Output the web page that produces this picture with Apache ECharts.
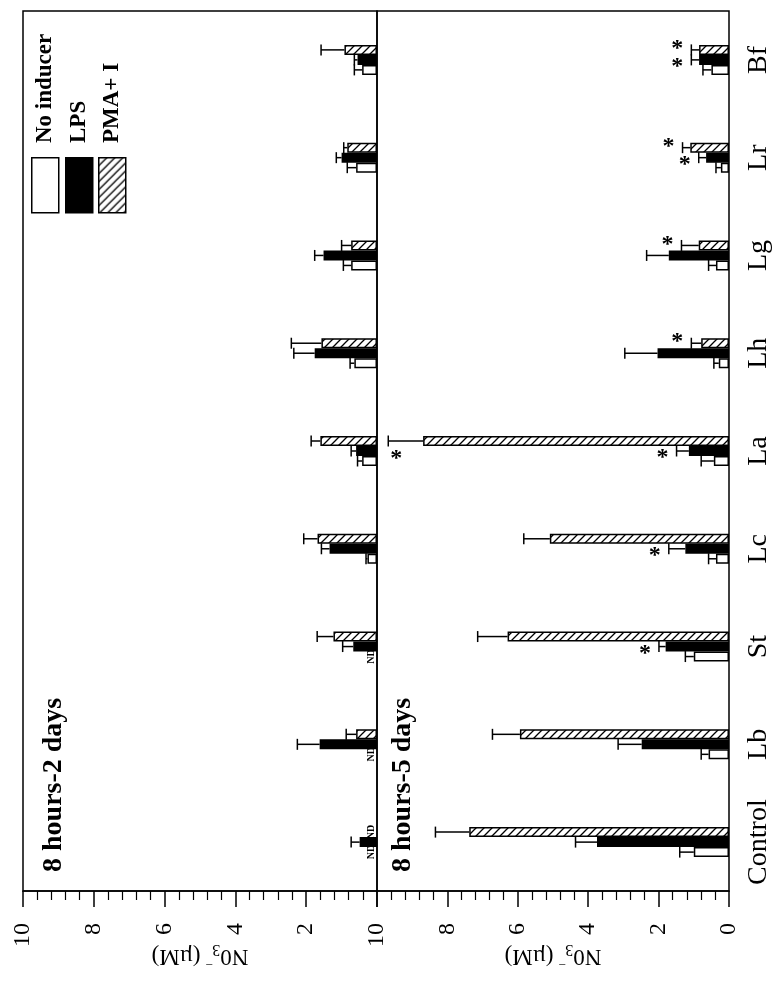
<!DOCTYPE html>
<html>
<head>
<meta charset="utf-8">
<script src="https://cdn.jsdelivr.net/npm/echarts@6/dist/echarts.min.js"></script>
<style>
  html, body { margin: 0; background: #fff; }
  #main { width: 779px; height: 1004px; }
</style>
</head>
<body>
<div id="main"></div>
<script>
const categories = ['Control', 'Lb', 'St', 'Lc', 'La', 'Lh', 'Lg', 'Lr', 'Bf'];
const legendNames = ['No inducer', 'LPS', 'PMA+ I'];
const panelTitles = ['8 hours-2 days', '8 hours-5 days'];
const axisTitle = '{a|N0}{b|3}{c|\u2013}{a| (\u00B5M)}';

// 8 hours-2 days  (null = ND)
const day2None = [null, null, null, 0.27, 0.42, 0.64, 0.73, 0.59, 0.42];
const day2NoneErr = [0, 0, 0, 0.04, 0.13, 0.12, 0.22, 0.25, 0.22];
const day2Lps = [0.49, 1.62, 0.67, 1.34, 0.59, 1.76, 1.51, 1.0, 0.55];
const day2LpsErr = [0.24, 0.63, 0.3, 0.23, 0.14, 0.59, 0.25, 0.15, 0.09];
const day2Pma = [null, 0.59, 1.23, 1.68, 1.6, 1.57, 0.73, 0.84, 0.92];
const day2PmaErr = [0, 0.28, 0.46, 0.39, 0.26, 0.85, 0.27, 0.1, 0.66];

// 8 hours-5 days
const day5None = [1.0, 0.58, 1.0, 0.37, 0.43, 0.29, 0.37, 0.23, 0.5];
const day5NoneErr = [0.4, 0.21, 0.24, 0.21, 0.36, 0.14, 0.21, 0.14, 0.24];
const day5Lps = [3.75, 2.48, 1.8, 1.24, 1.14, 2.03, 1.71, 0.65, 0.85];
const day5LpsErr = [0.61, 0.67, 0.19, 0.47, 0.35, 0.93, 0.63, 0.21, 0.22];
const day5Pma = [7.38, 5.94, 6.29, 5.09, 8.69, 0.79, 0.86, 1.1, 0.85];
const day5PmaErr = [0.96, 0.78, 0.85, 0.74, 0.99, 0.28, 0.49, 0.22, 0.22];
// significance marks (1 = *)
const day5LpsStar = [0, 0, 1, 1, 1, 0, 0, 1, 1];
const day5PmaStar = [0, 0, 0, 0, 1, 1, 1, 1, 1];
const noStar = [0, 0, 0, 0, 0, 0, 0, 0, 0];

const serif = 'Liberation Serif';
const barW = 10;

function hatchCanvas() {
  const c = document.createElement('canvas');
  c.width = c.height = 8;
  const g = c.getContext('2d');
  g.fillStyle = '#fff';
  g.fillRect(0, 0, 8, 8);
  g.strokeStyle = '#000';
  g.lineWidth = 1.3;
  g.beginPath();
  g.moveTo(0, 8); g.lineTo(8, 0);
  g.moveTo(-2, 2); g.lineTo(2, -2);
  g.moveTo(6, 10); g.lineTo(10, 6);
  g.stroke();
  return c;
}
const hatch = { image: hatchCanvas(), repeat: 'repeat' };
const fills = ['#fff', '#000', hatch];

const panels = [
  { vals: [day2None, day2Lps, day2Pma], errs: [day2NoneErr, day2LpsErr, day2PmaErr], stars: [noStar, noStar, noStar] },
  { vals: [day5None, day5Lps, day5Pma], errs: [day5NoneErr, day5LpsErr, day5PmaErr], stars: [noStar, day5LpsStar, day5PmaStar] }
];
// pixel offset of each bar inside its category band (white lowest, hatched on top)
const rowShift = [barW, 0, -barW];
const starShift = [0, 7, -1];

const chart = echarts.init(document.getElementById('main'), null, { renderer: 'canvas' });

const grids = [
  { left: 23, top: 11, width: 354, height: 880 },
  { left: 377, top: 11, width: 352, height: 880 }
].map(g => Object.assign(g, { show: true, borderColor: '#000', borderWidth: 1.5, backgroundColor: 'transparent' }));

const xAxes = [0, 1].map(i => ({
  gridIndex: i,
  type: 'value',
  min: 0,
  max: 10,
  interval: 2,
  inverse: true,
  axisLine: { show: true, onZero: false, lineStyle: { color: '#000', width: 1.5 } },
  axisTick: { show: true, length: 16, lineStyle: { color: '#000', width: 1.5 } },
  minorTick: { show: true, splitNumber: 5, length: 9, lineStyle: { color: '#000', width: 1.2 } },
  splitLine: { show: false },
  axisLabel: {
    rotate: 90, margin: 32, color: '#000', fontFamily: serif, fontSize: 24,
    showMinLabel: i === 1
  },
  name: axisTitle,
  nameLocation: 'middle',
  nameGap: 50,
  nameMoveOverlap: false,
  nameRotate: 180,
  nameTextStyle: {
    color: '#000', fontFamily: serif,
    rich: {
      a: { fontFamily: serif, fontSize: 23, lineHeight: 30, color: '#000' },
      b: { fontFamily: serif, fontSize: 16, verticalAlign: 'bottom', color: '#000' },
      c: { fontFamily: serif, fontSize: 12, verticalAlign: 'top', color: '#000' }
    }
  }
}));

const yAxes = [0, 1].map(i => ({
  gridIndex: i,
  type: 'category',
  data: categories,
  position: 'right',
  axisLine: { show: false },
  axisTick: { show: false },
  axisLabel: {
    show: i === 1, interval: 0, rotate: 90, margin: 16, color: '#000', fontFamily: serif, fontSize: 28,
    align: 'center', verticalAlign: 'top'
  }
}));

const series = [];
panels.forEach((p, pi) => {
  // ECharts places the first bar series at the top of each band, so hatched goes first
  [2, 1, 0].forEach(k => {
    series.push({
      type: 'bar',
      name: legendNames[k],
      xAxisIndex: pi,
      yAxisIndex: pi,
      data: p.vals[k],
      barWidth: barW,
      barGap: '0%',
      itemStyle: { color: fills[k], borderColor: '#000', borderWidth: 1.5 },
      silent: true
    });
  });
  series.push({
    type: 'custom',
    xAxisIndex: pi,
    yAxisIndex: pi,
    data: categories.map((c, i) => [0, i]),
    encode: { x: 0, y: 1 },
    z: 5,
    silent: true,
    renderItem: function (params, api) {
      const i = params.dataIndex;
      const zeroX = api.coord([0, i])[0];
      const leftEdge = params.coordSys.x;
      const kids = [];
      for (let k = 0; k < 3; k++) {
        const v = p.vals[k][i];
        const y = api.coord([0, i])[1] + rowShift[k];
        if (v == null) {
          kids.push({
            type: 'text', x: zeroX - 6, y: y, rotation: Math.PI / 2,
            style: { text: 'ND', font: 'bold 10px ' + serif, fill: '#000', align: 'center', verticalAlign: 'middle' }
          });
          continue;
        }
        const x0 = api.coord([v, i])[0];
        const x1 = api.coord([v + p.errs[k][i], i])[0];
        kids.push({ type: 'line', shape: { x1: x0, y1: y, x2: x1, y2: y }, style: { stroke: '#000', lineWidth: 1.5 } });
        kids.push({ type: 'line', shape: { x1: x1, y1: y - 5.5, x2: x1, y2: y + 5.5 }, style: { stroke: '#000', lineWidth: 1.5 } });
        if (p.stars[k][i]) {
          let sx = x1 - 14, sy = y + starShift[k];
          if (sx < leftEdge + 10) { sx = x1 + 8; sy = y + 18; }
          kids.push({
            type: 'text', x: sx, y: sy,
            style: { text: '*', font: 'bold 24px ' + serif, fill: '#000', align: 'center', verticalAlign: 'middle' }
          });
        }
      }
      return { type: 'group', children: kids };
    }
  });
});

// legend drawn as rotated boxes and labels in the upper left
const legendX = [31, 65, 98];
const graphics = [];
legendNames.forEach((n, k) => {
  graphics.push({
    type: 'rect', left: legendX[k], top: 157,
    shape: { width: 27, height: 55 },
    style: { fill: fills[k], stroke: '#000', lineWidth: 1.5 }
  });
  graphics.push({
    type: 'text', x: legendX[k] + 14, y: 143, rotation: Math.PI / 2,
    style: { text: n, font: 'bold 23px ' + serif, fill: '#000', align: 'left', verticalAlign: 'middle' }
  });
});
graphics.push({ type: 'text', x: 54, y: 872, rotation: Math.PI / 2,
  style: { text: panelTitles[0], font: 'bold 28px ' + serif, fill: '#000', align: 'left', verticalAlign: 'middle' } });
graphics.push({ type: 'text', x: 403, y: 872, rotation: Math.PI / 2,
  style: { text: panelTitles[1], font: 'bold 28px ' + serif, fill: '#000', align: 'left', verticalAlign: 'middle' } });

chart.setOption({
  animation: false,
  backgroundColor: '#fff',
  grid: grids,
  xAxis: xAxes,
  yAxis: yAxes,
  series: series,
  graphic: graphics
});
</script>
</body>
</html>
